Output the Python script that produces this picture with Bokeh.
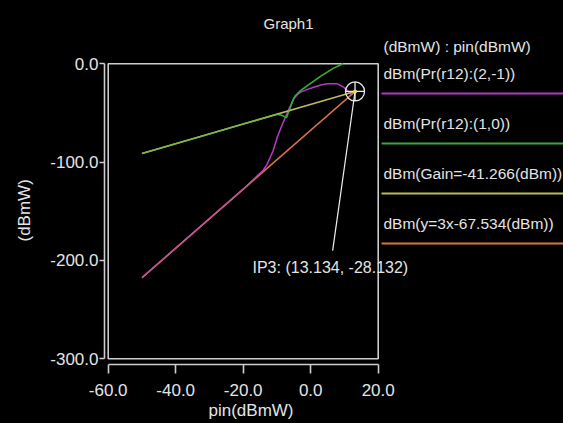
from bokeh.plotting import figure
from bokeh.models import (Range1d, FixedTicker, LinearAxis, Label, Title,
                          GlobalInlineStyleSheet)
from bokeh.embed import file_html
from bokeh.resources import INLINE

# ---------------- data ----------------
xlim = [-60, 20]
ylim = [-300, 0]
xticks = [-60, -40, -20, 0, 20]
xtick_labels = ["-60.0", "-40.0", "-20.0", "0.0", "20.0"]
yticks = [0, -100, -200, -300]
ytick_labels = ["0.0", "-100.0", "-200.0", "-300.0"]

# dBm(Pr(r12):(1,0))  fundamental output
fund_x = [-50, -40, -30, -20, -12, -9.9, -8.5, -7.2, -6.3, -5.3, -4.5, -3.0, -1.0, 0.9, 2.9, 4.9, 6.8, 9.6]
fund_y = [-91.3, -81.3, -71.3, -61.3, -53.3, -51.4, -52.5, -54.8, -47.0, -37.0, -32.2, -27.2, -22.1, -17.7, -12.9, -8.5, -4.4, 0.0]

# dBm(Pr(r12):(2,-1))  third-order intermod
im3_x = [-50, -40, -30, -20, -18.3, -16.0, -14.0, -12.9, -11.2, -9.9, -8.7, -7.5, -6.2, -5.0, -4.0, -3.0, -1.0, 0.9, 3.0, 4.9, 7.9, 9.8, 11.3, 12.0]
im3_y = [-217.5, -187.5, -157.5, -127.5, -122.0, -114.5, -108.0, -102.0, -89.0, -74.6, -64.0, -54.3, -44.0, -35.6, -31.5, -28.8, -26.0, -23.8, -21.5, -20.4, -20.4, -23.8, -28.8, -31.0]

# dBm(Gain=-41.266(dBm))  extrapolated fundamental
gain_x = [-50, 13.134]
gain_y = [-91.266, -28.132]

# dBm(y=3x-67.534(dBm))  extrapolated IM3
ext3_x = [-50, 13.134]
ext3_y = [-217.534, -28.132]

ip3_x, ip3_y = 13.134, -28.132
ip3_text = "IP3: (13.134, -28.132)"
leader_end = (6.5, -190.0)

series_names = ["dBm(Pr(r12):(2,-1))", "dBm(Pr(r12):(1,0))",
                "dBm(Gain=-41.266(dBm))", "dBm(y=3x-67.534(dBm))"]
series_colors = ["#b23cc4", "#38a838", "#b8bc58", "#d8724a"]

# ---------------- styling ----------------
FONT = "Liberation Sans"
TXT = "#e4e4e4"
AX = "#cdcdcd"
W, H = 563, 423
LB, TB, BB = 104, 0, 59
XPX = 3.375      # pixels per x unit
YPX = 0.98333    # pixels per y unit
X0 = -61.1       # x value at the left frame edge
YTOP = 63.3 / YPX  # y value at the top frame edge (y=0 sits at pixel row 63)

p = figure(width=W, height=H, output_backend="svg", toolbar_location=None,
           x_range=Range1d(X0, X0 + (W - LB) / XPX),
           y_range=Range1d(YTOP - (H - TB - BB) / YPX, YTOP),
           min_border_left=LB, min_border_right=0, min_border_top=TB, min_border_bottom=BB,
           x_axis_type=None, y_axis_type=None)
p.background_fill_color = "black"
p.border_fill_color = "black"
p.outline_line_color = None
p.stylesheets = [GlobalInlineStyleSheet(css="html, body { background: #000; margin: 0; }")]

# pixel-space ranges for legend / annotation placement
p.extra_x_ranges = {"px": Range1d(LB, W)}
p.extra_y_ranges = {"py": Range1d(H - BB, TB)}

# axes
yax = LinearAxis(ticker=FixedTicker(ticks=yticks), bounds=(ylim[0], ylim[1]),
                 major_label_overrides={t: s for t, s in zip(yticks, ytick_labels)})
xax = LinearAxis(ticker=FixedTicker(ticks=xticks), bounds=(xlim[0], xlim[1]),
                 major_label_overrides={t: s for t, s in zip(xticks, xtick_labels)})
for ax in (yax, xax):
    ax.axis_line_color = AX
    ax.axis_line_width = 1.6
    ax.major_tick_line_color = AX
    ax.major_tick_line_width = 1.6
    ax.major_tick_in = 0
    ax.minor_tick_line_color = None
    ax.major_label_text_font = FONT
    ax.major_label_text_font_size = "17px"
    ax.major_label_text_color = TXT
yax.major_tick_out = 5
yax.major_label_standoff = 1
xax.major_tick_out = 9
xax.major_label_standoff = 10
p.add_layout(yax, "left")
p.add_layout(xax, "below")

# axis titles
p.add_layout(Title(text="(dBmW)", align="left", offset=123, vertical_align="middle",
                   standoff=26, text_font=FONT, text_font_size="17px",
                   text_font_style="normal", text_color=TXT), "left")
p.add_layout(Title(text="pin(dBmW)", align="left", offset=104, vertical_align="bottom",
                   standoff=0, text_font=FONT, text_font_size="17px",
                   text_font_style="normal", text_color=TXT), "below")

# plot box
p.quad(left=[xlim[0]], right=[xlim[1]], bottom=[ylim[0]], top=[ylim[1]],
       fill_color=None, line_color=AX, line_width=1.6)

# curves
p.line(ext3_x, ext3_y, line_color=series_colors[3], line_width=1.5)
p.line(im3_x, im3_y, line_color=series_colors[0], line_width=1.5)
p.line(ext3_x, ext3_y, line_color=series_colors[3], line_width=1.5, line_alpha=0.45)
p.line(fund_x, fund_y, line_color=series_colors[1], line_width=1.5)
p.line(gain_x, gain_y, line_color=series_colors[2], line_width=1.5)
p.line(fund_x, fund_y, line_color=series_colors[1], line_width=1.5, line_alpha=0.4)

# IP3 marker and leader
p.line([ip3_x, leader_end[0]], [ip3_y, leader_end[1]], line_color="#f0f0f0", line_width=1.2)
p.scatter([ip3_x], [ip3_y], marker="circle_cross", size=19, fill_color=None,
          line_color="#e8e8e8", line_width=1.3)
p.scatter([ip3_x], [ip3_y], marker="circle", size=4, fill_color="#e8d870", line_color=None)
p.add_layout(Label(x=252, y=266.7, x_range_name="px", y_range_name="py", text=ip3_text,
                   text_font=FONT, text_font_size="16px", text_color=TXT,
                   text_align="left", text_baseline="middle"))

# chart title
p.add_layout(Label(x=288, y=23, x_range_name="px", y_range_name="py", text="Graph1",
                   text_font=FONT, text_font_size="15px", text_color=TXT,
                   text_align="center", text_baseline="middle"))

# legend
p.add_layout(Label(x=383, y=46, x_range_name="px", y_range_name="py", text="(dBmW) : pin(dBmW)",
                   text_font=FONT, text_font_size="15.5px", text_color=TXT,
                   text_align="left", text_baseline="middle"))
for i, (name, col) in enumerate(zip(series_names, series_colors)):
    ty = 72.5 + 50 * i
    ly = 93 + 50 * i
    p.add_layout(Label(x=383, y=ty, x_range_name="px", y_range_name="py", text=name,
                       text_font=FONT, text_font_size="15.5px", text_color=TXT,
                       text_align="left", text_baseline="middle"))
    p.line([381, W], [ly, ly], x_range_name="px", y_range_name="py",
           line_color=col, line_width=2)

open("out.html", "w").write(file_html(p, INLINE))
